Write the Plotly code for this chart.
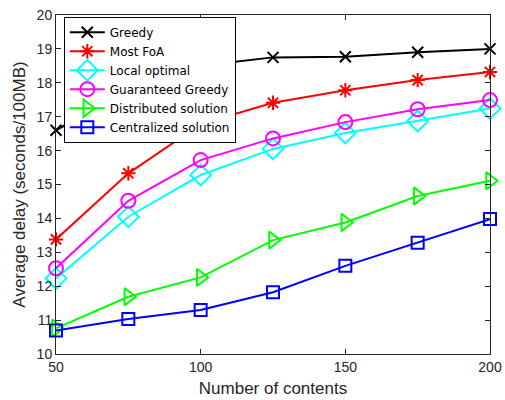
import plotly.graph_objects as go

x_contents = [50, 75, 100, 125, 150, 175, 200]
greedy = [16.6, 17.8, 18.5, 18.75, 18.77, 18.9, 19.0]
most_foa = [13.38, 15.33, 16.78, 17.41, 17.78, 18.08, 18.32]
local_optimal = [12.23, 14.05, 15.28, 16.05, 16.52, 16.87, 17.24]
guaranteed_greedy = [12.53, 14.52, 15.72, 16.36, 16.84, 17.22, 17.49]
distributed = [10.76, 11.69, 12.26, 13.36, 13.88, 14.66, 15.11]
centralized = [10.69, 11.03, 11.3, 11.82, 12.6, 13.28, 13.98]

series = [
    ("Greedy", greedy, "#000000", "x-thin-open", 11),
    ("Most FoA", most_foa, "#ff0000", "asterisk-open", 12),
    ("Local optimal", local_optimal, "#00ffff", "diamond-open", 16),
    ("Guaranteed Greedy", guaranteed_greedy, "#ff00ff", "circle-open", 14),
    ("Distributed solution", distributed, "#00ff00", "triangle-right-open", 15),
    ("Centralized solution", centralized, "#0000ff", "square-open", 12),
]

fig = go.Figure()
for name, vals, color, sym, sz in series:
    fig.add_trace(go.Scatter(
        x=x_contents, y=vals, name=name, mode="lines+markers",
        line=dict(color=color, width=2),
        marker=dict(symbol=sym, size=sz, color=color, line=dict(color=color, width=2)),
        cliponaxis=False,
    ))

axis_common = dict(
    showline=True, linecolor="#262626", linewidth=1, mirror="ticks",
    ticks="inside", ticklen=5, tickcolor="#262626", showgrid=False, zeroline=False,
    automargin=False,
    tickfont=dict(family="Liberation Sans, Arial", size=14, color="#262626"),
)

fig.update_layout(
    width=505, height=400,
    margin=dict(l=56, r=15, t=15, b=46),
    paper_bgcolor="white", plot_bgcolor="white",
    font=dict(family="Liberation Sans, Arial", color="#262626"),
    xaxis=dict(range=[50, 200], tickvals=[50, 100, 150, 200],
               title=dict(text="Number of contents", font=dict(size=17), standoff=8),
               **axis_common),
    yaxis=dict(range=[10, 20], dtick=1,
               title=dict(text="Average delay (seconds/100MB)", font=dict(size=17), standoff=6),
               **axis_common),
    legend=dict(x=0.018, y=0.995, xanchor="left", yanchor="top",
                bgcolor="white", bordercolor="#000000", borderwidth=1,
                font=dict(family="DejaVu Sans", size=12, color="#000000"), tracegroupgap=0,
                itemwidth=35),
    showlegend=True,
)

fig.write_html("out.html", config={"displayModeBar": False},
               post_script="document.body.style.margin='0';document.body.style.padding='0';")
